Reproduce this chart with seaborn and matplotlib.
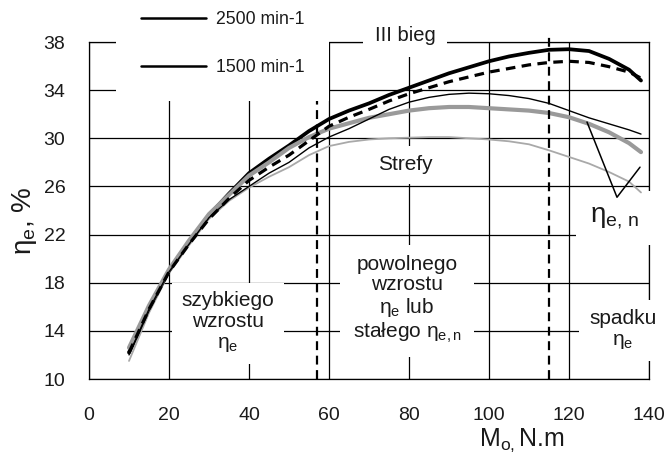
import matplotlib
matplotlib.use("Agg")
import matplotlib.pyplot as plt
import seaborn as sns
from matplotlib.lines import Line2D

# ---------------- data ----------------
torque = [10, 15, 20, 25, 30, 35, 40, 45, 50, 55, 60, 65, 70, 75, 80, 85, 90,
          95, 100, 105, 110, 115, 120, 125, 130, 135, 138]
eta_thick_black = [12.2, 15.9, 19.0, 21.4, 23.6, 25.4, 27.1, 28.3, 29.4, 30.6, 31.6,
                   32.3, 32.9, 33.6, 34.2, 34.8, 35.4, 35.9, 36.4, 36.8, 37.1, 37.35,
                   37.4, 37.25, 36.6, 35.7, 34.8]
eta_dashed = [12.2, 15.8, 18.9, 21.2, 23.3, 25.0, 26.5, 27.6, 28.6, 29.8, 31.0,
              31.75, 32.4, 33.1, 33.7, 34.2, 34.7, 35.1, 35.5, 35.8, 36.1, 36.3,
              36.4, 36.3, 35.95, 35.5, 35.0]
eta_thick_gray = [12.6, 16.1, 19.1, 21.5, 23.7, 25.3, 26.9, 28.0, 29.2, 30.1, 30.8,
                  31.25, 31.7, 32.0, 32.3, 32.5, 32.6, 32.6, 32.5, 32.4, 32.3, 32.1,
                  31.75, 31.2, 30.5, 29.6, 28.85]
eta_thin_black = [12.0, 15.8, 18.9, 21.2, 23.4, 24.9, 26.0, 27.1, 28.0, 29.2, 30.1,
                  30.8, 31.6, 32.4, 33.0, 33.4, 33.65, 33.75, 33.7, 33.55, 33.3, 32.9,
                  32.3, 31.7, 31.2, 30.7, 30.35]
eta_thin_gray = [11.5, 15.5, 18.8, 21.1, 23.3, 24.8, 25.9, 26.8, 27.6, 28.6, 29.35,
                 29.7, 29.9, 30.0, 30.05, 30.1, 30.1, 30.0, 29.9, 29.75, 29.5, 29.0,
                 28.45, 27.9, 27.2, 26.4, 25.5]

zone_bounds = [57, 115]          # vertical dashed zone limits
zone_tops = [33.5, 38.6]
pointer_x = [124.5, 132.0, 137.75]
pointer_y = [31.35, 25.1, 27.6]

x_ticks = [0, 20, 40, 60, 80, 100, 120, 140]
y_ticks = [10, 14, 18, 22, 26, 30, 34, 38]
legend_labels = ["2500 min-1", "1500 min-1"]

# ---------------- style ----------------
sns.set_style("white")
plt.rcParams["font.family"] = ["Liberation Sans", "DejaVu Sans"]
plt.rcParams["mathtext.fontset"] = "custom"
plt.rcParams["mathtext.rm"] = "Liberation Sans"
plt.rcParams["mathtext.it"] = "Liberation Sans"
plt.rcParams["mathtext.bf"] = "Liberation Sans:bold"

TXT = "#1a1a1a"
fig = plt.figure(figsize=(6.68, 4.53), dpi=100)
ax = fig.add_axes([89 / 668, 1 - 379 / 453, 560 / 668, 337 / 453])

series = [
    (eta_thin_gray, "#a9a9a9", 1.3, None),
    (eta_thick_black, "black", 2.7, None),
    (eta_thick_gray, "#9a9a9a", 3.0, None),
    (eta_thin_black, "black", 1.0, None),
    (eta_dashed, "black", 2.3, (3, 2)),
]
for vals, col, lw, dash in series:
    sns.lineplot(x=torque, y=vals, ax=ax, color=col, lw=lw, zorder=4)
    if dash is not None:
        ax.lines[-1].set_dashes(dash)

# zone boundaries
for xb, top in zip(zone_bounds, zone_tops):
    ln, = ax.plot([xb, xb], [10, top], color="black", lw=1.6, zorder=4, clip_on=False)
    ln.set_dashes((4, 2.5))

# pointer for eta_e,n
ax.plot(pointer_x, pointer_y, color="black", lw=1.1, zorder=4)

ax.set_xlim(0, 140)
ax.set_ylim(10, 38)
ax.set_xticks(x_ticks)
ax.set_yticks(y_ticks)
ax.grid(True, color="black", lw=0.9)
ax.set_axisbelow(True)
for sp in ax.spines.values():
    sp.set_visible(True)
    sp.set_color("black")
    sp.set_linewidth(0.9)
ax.tick_params(axis="both", direction="out", length=5, width=0.9, color="black",
               labelsize=14, labelcolor=TXT)
ax.tick_params(axis="x", pad=15)
ax.tick_params(axis="y", pad=12)
ax.set_xlabel("")
ax.set_ylabel("")

# axis titles
ax.text(0.773, (379 - 446) / 337, r"M$_{\mathrm{o,}}$N.m", transform=ax.transAxes,
        fontsize=18, color=TXT, ha="center", va="baseline")
ax.text(-0.115, 0.47, r"η$_{\mathrm{e}}$, %", transform=ax.transAxes,
        fontsize=20, color=TXT, ha="center", va="center", rotation=90)

box = dict(boxstyle="square,pad=0.45", facecolor="white", edgecolor="none")
ax.text(79, 38.55, "III bieg", fontsize=14.5, color=TXT, ha="center", va="center",
        bbox=dict(boxstyle="square,pad=0.6", facecolor="white", edgecolor="none"),
        zorder=3, clip_on=False)
ax.text(79, 27.8, "Strefy", fontsize=15, color=TXT, ha="center", va="center",
        bbox=box, zorder=3)
ax.text(34.75, 14.7, "szybkiego\nwzrostu\nη$_{\\mathrm{e}}$", fontsize=15, color=TXT,
        ha="center", va="center", linespacing=1.15, bbox=box, zorder=3)
ax.text(79.5, 16.6, "powolnego\nwzrostu\nη$_{\\mathrm{e}}$ lub\nstałego η$_{\\mathrm{e,n}}$",
        fontsize=15, color=TXT, ha="center", va="center", linespacing=1.1,
        bbox=dict(boxstyle="square,pad=0.6", facecolor="white", edgecolor="none"), zorder=3)
ax.text(133.5, 14.1, "spadku\nη$_{\\mathrm{e}}$", fontsize=15, color=TXT,
        ha="center", va="center", linespacing=1.15,
        bbox=dict(boxstyle="square,pad=0.5", facecolor="white", edgecolor="none"),
        zorder=3, clip_on=False)
ax.text(131.5, 23.4, "η$_{\\mathrm{e,\\,n}}$", fontsize=20, color=TXT,
        ha="center", va="center",
        bbox=dict(boxstyle="square,pad=0.5", facecolor="white", edgecolor="none"),
        zorder=3, clip_on=False)

handles = [Line2D([], [], color="black", lw=1.8) for _ in legend_labels]
leg = ax.legend(handles, legend_labels, loc="center", bbox_to_anchor=(0.239, 0.9955),
                fontsize=12.7, frameon=True, fancybox=False, borderpad=1.4,
                labelspacing=1.75, handlelength=3.7, handletextpad=0.55,
                borderaxespad=0)
leg.get_frame().set_facecolor("white")
leg.get_frame().set_edgecolor("none")
leg.get_frame().set_alpha(1)
for t in leg.get_texts():
    t.set_color(TXT)

fig.savefig("out.png", dpi=100)
